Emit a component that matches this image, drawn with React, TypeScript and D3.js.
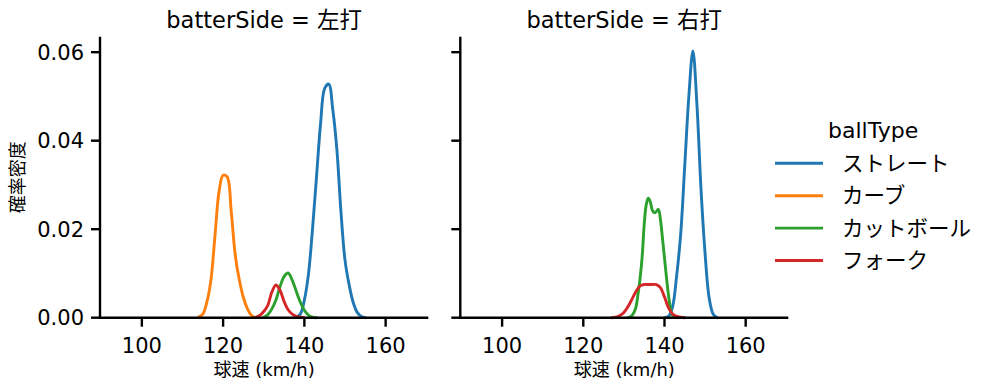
import React from 'react';
import * as d3 from 'd3';

const ballTypes = ['ストレート', 'カーブ', 'カットボール', 'フォーク'];
const colors = ['#1f77b4', '#ff7f0e', '#2ca02c', '#d62728'];
const panelLabels = ['左打', '右打'];
const xTicks = [100, 120, 140, 160];
const yTicks = [0, 0.02, 0.04, 0.06];
const yTickLabels = ['0.00', '0.02', '0.04', '0.06'];

// 左打
const leftStraightSpeed = [138, 139, 140, 141, 142, 143, 144, 145, 146, 147, 148, 149, 150, 151, 152, 153, 154, 155];
const leftStraightDensity = [0.0001, 0.0008, 0.004, 0.0098, 0.02, 0.032, 0.044, 0.0518, 0.0528, 0.047, 0.038, 0.024, 0.013, 0.0075, 0.0035, 0.0012, 0.0003, 0];
const leftCurveSpeed = [114, 115, 116, 117, 118, 119, 120, 121, 122, 123, 124, 125, 126, 127, 128];
const leftCurveDensity = [0.0002, 0.0008, 0.0035, 0.0085, 0.0185, 0.0285, 0.0322, 0.0318, 0.024, 0.014, 0.0085, 0.0045, 0.002, 0.0005, 0];
const leftCutterSpeed = [130, 131, 132, 133, 134, 135, 136, 137, 138, 139, 140, 141, 142, 143];
const leftCutterDensity = [0.0001, 0.0007, 0.002, 0.004, 0.007, 0.0093, 0.0101, 0.0085, 0.006, 0.0035, 0.0017, 0.0006, 0.0001, 0];
const leftForkSpeed = [128, 129, 130, 131, 132, 133, 134, 135, 136, 137, 138, 139, 140];
const leftForkDensity = [0.0001, 0.0005, 0.0014, 0.0028, 0.0058, 0.0074, 0.0062, 0.0037, 0.0018, 0.0008, 0.0003, 0.0001, 0];

// 右打
const rightStraightSpeed = [140, 141, 142, 143, 144, 145, 146, 147, 148, 149, 150, 151, 152, 153];
const rightStraightDensity = [0, 0.0003, 0.0025, 0.0095, 0.019, 0.0345, 0.05, 0.0603, 0.048, 0.029, 0.0145, 0.0045, 0.0008, 0];
const rightCutterSpeed = [131, 132, 132.5, 133, 133.5, 134, 134.5, 135, 135.5, 136, 136.5, 137, 137.5, 138, 138.5, 139, 139.5, 140, 140.5, 141, 141.5, 142, 143];
const rightCutterDensity = [0, 0.0005, 0.0012, 0.0025, 0.0055, 0.009, 0.0138, 0.021, 0.0255, 0.027, 0.0262, 0.0243, 0.0237, 0.024, 0.0245, 0.0222, 0.018, 0.0135, 0.009, 0.005, 0.002, 0.0005, 0];
const rightForkSpeed = [127, 128, 129, 130, 131, 132, 133, 134, 135, 136, 137, 138, 139, 140, 141, 142, 143, 144, 145];
const rightForkDensity = [0, 0.0001, 0.0005, 0.0012, 0.0025, 0.0042, 0.006, 0.0072, 0.0075, 0.0075, 0.0075, 0.0075, 0.0068, 0.0047, 0.0022, 0.0008, 0.0003, 0.0001, 0];

const panelSeries = [
  [
    { speed: leftStraightSpeed, density: leftStraightDensity },
    { speed: leftCurveSpeed, density: leftCurveDensity },
    { speed: leftCutterSpeed, density: leftCutterDensity },
    { speed: leftForkSpeed, density: leftForkDensity },
  ],
  [
    { speed: rightStraightSpeed, density: rightStraightDensity },
    null,
    { speed: rightCutterSpeed, density: rightCutterDensity },
    { speed: rightForkSpeed, density: rightForkDensity },
  ],
];

const FONT = '"DejaVu Sans", "Noto Sans CJK JP", sans-serif';
const W = 997;
const H = 391;
const panelX = [[100, 428.3], [460.3, 788.3]];
const yTop = 36.7;
const yBottom = 317.7;
const xDomain = [89.7, 170.5];
const yDomain = [0, 0.0635];
const tickLen = 9;

export default function App() {
  const y = d3.scaleLinear().domain(yDomain).range([yBottom, yTop]);
  return (
    <svg width={W} height={H} style={{ position: 'absolute', left: 0, top: 0, background: '#fff' }} fontFamily={FONT}>
      <rect width={W} height={H} fill="#fff" />
      {panelX.map(([x0, x1], pi) => {
        const x = d3.scaleLinear().domain(xDomain).range([x0, x1]);
        return (
          <g key={pi}>
            <text x={(x0 + x1) / 2} y={28.3} textAnchor="middle" fontSize={22.5} fill="#000">
              {`batterSide = ${panelLabels[pi]}`}
            </text>
            {panelSeries[pi].map((s, si) => {
              if (!s) return null;
              const pts = s.speed.map((v, i) => [x(v), y(s.density[i])] as [number, number]);
              const gen = d3.line().curve(d3.curveCatmullRom);
              return (
                <path key={si} d={gen(pts) || ''} fill="none" stroke={colors[si]} strokeWidth={2.9} strokeLinejoin="round" strokeLinecap="round" />
              );
            })}
            <line x1={x0} x2={x0} y1={yTop} y2={yBottom + 1.2} stroke="#000" strokeWidth={2.4} />
            <line x1={x0 - 1.2} x2={x1} y1={yBottom} y2={yBottom} stroke="#000" strokeWidth={2.4} />
            {yTicks.map((t, i) => (
              <g key={i}>
                <line x1={x0 - tickLen} x2={x0} y1={y(t)} y2={y(t)} stroke="#000" strokeWidth={2.4} />
                {pi === 0 && (
                  <text x={x0 - tickLen - 7} y={y(t)} dy="0.36em" textAnchor="end" fontSize={21} fill="#000">
                    {yTickLabels[i]}
                  </text>
                )}
              </g>
            ))}
            {xTicks.map((t) => (
              <g key={t}>
                <line x1={x(t)} x2={x(t)} y1={yBottom} y2={yBottom + tickLen} stroke="#000" strokeWidth={2.4} />
                <text x={x(t)} y={352.5} textAnchor="middle" fontSize={21} fill="#000">
                  {t}
                </text>
              </g>
            ))}
            <text x={(x0 + x1) / 2} y={376} textAnchor="middle" fontSize={18} fill="#000">
              球速 (km/h)
            </text>
          </g>
        );
      })}
      <text transform={`translate(24,${(yTop + yBottom) / 2}) rotate(-90)`} textAnchor="middle" fontSize={18} fill="#000">
        確率密度
      </text>
      <text x={828} y={138} fontSize={22} fill="#000">ballType</text>
      {ballTypes.map((b, i) => {
        const ly = 163.3 + i * 32.4;
        return (
          <g key={b}>
            <line x1={775} x2={823} y1={ly} y2={ly} stroke={colors[i]} strokeWidth={2.9} />
            <text x={842} y={ly} dy="0.36em" fontSize={21.5} fill="#000">{b}</text>
          </g>
        );
      })}
    </svg>
  );
}
